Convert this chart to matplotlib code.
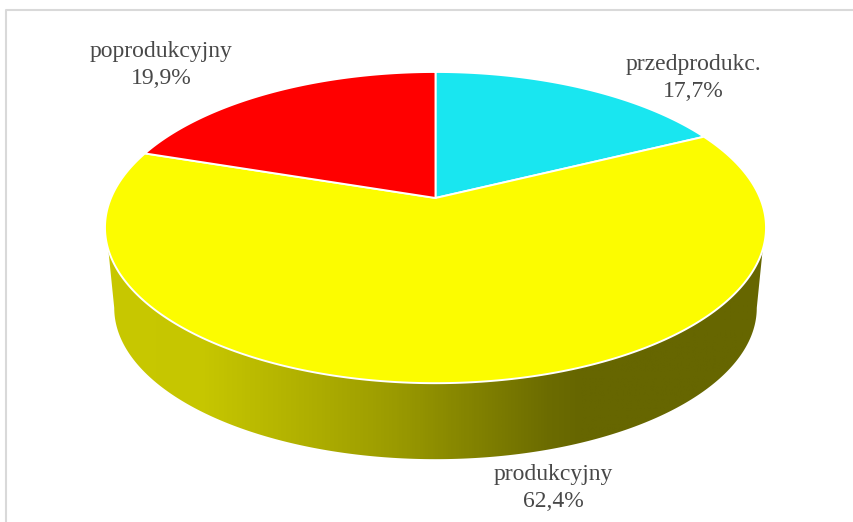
import numpy as np
import matplotlib
matplotlib.use('Agg')
import matplotlib.pyplot as plt
from matplotlib.patches import Polygon
from matplotlib.colors import LinearSegmentedColormap

# pie data, clockwise from 12 o'clock
names = ['przedprodukc.', 'produkcyjny', 'poprodukcyjny']
shares = [17.7, 62.4, 19.9]
share_labels = ['17,7%', '62,4%', '19,9%']
colors = ['#19E6F0', '#FCFC00', '#FF0000']

# colours along the rim, left to right
rim_pos = [0.0, 0.15, 0.30, 0.43, 0.57, 0.67, 0.72, 1.0]
rim_col = ['#C8C800', '#C6C600', '#B0B000', '#9C9C00', '#808000', '#6C6C00', '#666600', '#666600']

# pixel geometry of the tilted disc
cx, cy = 435.5, 198.0
a, b, k = 324.5, 150.0, 0.19
depth = 82.0

fig = plt.figure(figsize=(8.54, 5.22), dpi=100)
ax = fig.add_axes([0, 0, 1, 1])
ax.axis('off')


def rim(t0, t1, n=300, dy=0.0, scale=1.0):
    # t in radians clockwise from top, with perspective so centre sits off the ellipse middle
    t = np.linspace(t0, t1, n)
    w = 1 + k * np.cos(t)
    x = cx + scale * a * np.sin(t) / w
    y = cy + (-b * np.cos(t) / w + 29.5) * scale - 29.5 + dy
    return x, y


# side of the disc, straight edges run from just below the widest points
xt, yt = rim(1.9, 2 * np.pi - 1.9, 400)
xb, yb = rim(1.762, 2 * np.pi - 1.762, 400, dy=depth, scale=0.972)
side = Polygon(np.column_stack([np.r_[xt, xb[::-1]], np.r_[yt, yb[::-1]]]),
               closed=True, fc='none', ec='none')
ax.add_patch(side)
cmap = LinearSegmentedColormap.from_list('rim', list(zip(rim_pos, rim_col)))
im = ax.imshow(np.linspace(0, 1, 512).reshape(1, -1), cmap=cmap, aspect='auto',
               extent=[105, 766, 470, 200], zorder=1)
im.set_clip_path(side)
ax.set_xlim(0, 854)
ax.set_ylim(522, 0)

# top face
angles = np.r_[0, np.cumsum(shares)] / sum(shares) * 2 * np.pi
for i in range(len(shares)):
    x, y = rim(angles[i], angles[i + 1])
    ax.add_patch(Polygon(np.column_stack([np.r_[cx, x], np.r_[cy, y]]), closed=True,
                         fc=colors[i], ec='white', lw=1.4, zorder=2))

# frame of the chart area
ax.plot([6, 6, 854], [522, 10, 10], color='#D9D9D9', lw=1.5, zorder=0)

# labels
label_pos = [(693.5, 78), (553, 488), (161, 65)]
for (lx, ly), n, s in zip(label_pos, names, share_labels):
    ax.text(lx, ly, n + '\n' + s, ha='center', va='center', family='Liberation Serif',
            fontsize=17, color='#484848', linespacing=1.36, zorder=3)

fig.savefig('out.png', dpi=100)
